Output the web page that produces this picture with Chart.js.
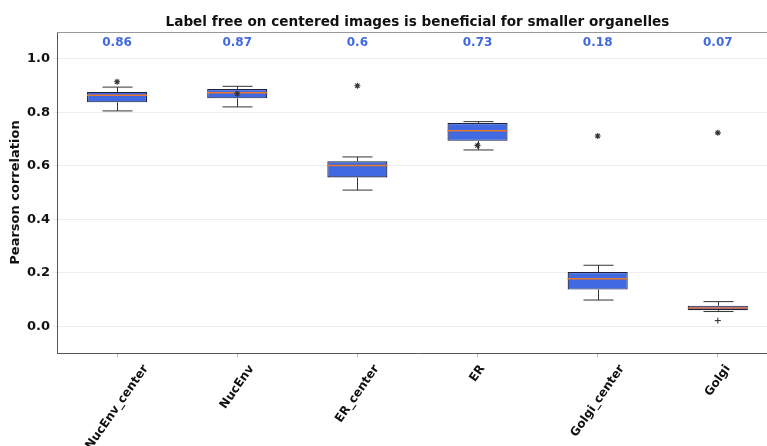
<!DOCTYPE html>
<html>
<head>
<meta charset="utf-8">
<script src="https://cdn.jsdelivr.net/npm/chart.js@4.4.1/dist/chart.umd.min.js"></script>
<style>
  html, body { margin: 0; padding: 0; background: #fff; overflow: hidden; width: 767px; height: 446px; }
  #c { display: block; }
</style>
</head>
<body>
<canvas id="c" width="783" height="446"></canvas>
<script>
// Box statistics per organelle (Pearson correlation)
const categories  = ['NucEnv_center', 'NucEnv', 'ER_center', 'ER', 'Golgi_center', 'Golgi'];
const q1          = [0.837, 0.852, 0.556, 0.693, 0.137, 0.060];
const q3          = [0.876, 0.887, 0.617, 0.760, 0.203, 0.077];
const medians     = [0.864, 0.873, 0.601, 0.731, 0.178, 0.068];
const whiskerLow  = [0.805, 0.820, 0.509, 0.659, 0.098, 0.055];
const whiskerHigh = [0.894, 0.897, 0.633, 0.765, 0.228, 0.092];
const starValues  = [0.914, 0.869, 0.899, 0.676, 0.711, 0.723];
const fliers      = [null, null, null, null, null, 0.021];
const yTicks      = [0.0, 0.2, 0.4, 0.6, 0.8, 1.0];
const titleText   = 'Label free on centered images is beneficial for smaller organelles';
const labelLevel  = 1.06;

const FONT = "'DejaVu Sans', 'Liberation Sans', sans-serif";

// whiskers, caps and median lines drawn right after the boxes
const boxDecor = {
  id: 'boxDecor',
  afterDatasetDraw(chart, args) {
    if (args.index !== 0) return;
    const ctx = chart.ctx, y = chart.scales.y;
    args.meta.data.forEach((bar, i) => {
      const x = Math.round(bar.x) + 0.5;
      const half = bar.width / 2, cap = bar.width / 4;
      const yHi = y.getPixelForValue(whiskerHigh[i]);
      const yLo = y.getPixelForValue(whiskerLow[i]);
      const yQ3 = y.getPixelForValue(q3[i]);
      const yQ1 = y.getPixelForValue(q1[i]);
      const yMed = y.getPixelForValue(medians[i]);
      ctx.save();
      ctx.strokeStyle = '#333';
      ctx.lineWidth = 1;
      ctx.beginPath();
      ctx.moveTo(x, yQ3); ctx.lineTo(x, yHi);
      ctx.moveTo(x, yQ1); ctx.lineTo(x, yLo);
      ctx.moveTo(x - cap, yHi); ctx.lineTo(x + cap, yHi);
      ctx.moveTo(x - cap, yLo); ctx.lineTo(x + cap, yLo);
      ctx.stroke();
      ctx.strokeStyle = '#e8782f';
      ctx.lineWidth = 1.5;
      ctx.beginPath();
      ctx.moveTo(bar.x - half, yMed); ctx.lineTo(bar.x + half, yMed);
      ctx.stroke();
      ctx.restore();
    });
  }
};

// title, top frame line, median labels and rotated category labels
const overlay = {
  id: 'overlay',
  afterDraw(chart) {
    const ctx = chart.ctx, area = chart.chartArea;
    const xs = chart.scales.x, ys = chart.scales.y;
    ctx.save();
    // top frame
    ctx.strokeStyle = '#999';
    ctx.lineWidth = 1.2;
    ctx.beginPath();
    ctx.moveTo(area.left, area.top + 0.5);
    ctx.lineTo(area.right, area.top + 0.5);
    ctx.stroke();

    // title
    ctx.fillStyle = '#111';
    ctx.font = 'bold 13.6px ' + FONT;
    ctx.textAlign = 'center';
    ctx.textBaseline = 'middle';
    ctx.fillText(titleText, (area.left + area.right) / 2, 22);

    // median labels
    ctx.fillStyle = '#4169E1';
    ctx.font = 'bold 12px ' + FONT;
    const ly = ys.getPixelForValue(labelLevel);
    medians.forEach((m, i) => {
      const txt = String(Math.round(m * 100) / 100);
      ctx.fillText(txt, xs.getPixelForValue(i), ly);
    });

    // category labels, rotated 55 degrees, bounding box centred on the tick
    const theta = 55 * Math.PI / 180;
    const fs = 12;
    ctx.fillStyle = '#111';
    ctx.font = 'bold ' + fs + 'px ' + FONT;
    categories.forEach((c, i) => {
      const w = ctx.measureText(c).width;
      const h = fs * 1.15;
      const bh = w * Math.sin(theta) + h * Math.cos(theta);
      const cx = xs.getPixelForValue(i);
      const cy = area.bottom + 9.5 + bh / 2;
      ctx.save();
      ctx.translate(cx, cy);
      ctx.rotate(-theta);
      ctx.textAlign = 'center';
      ctx.textBaseline = 'middle';
      ctx.fillText(c, 0, 0);
      ctx.restore();
    });
    ctx.restore();
  }
};

new Chart(document.getElementById('c'), {
  type: 'bar',
  data: {
    labels: categories,
    datasets: [
      {
        label: 'box',
        data: categories.map((_, i) => [q1[i], q3[i]]),
        backgroundColor: '#4169E1',
        borderColor: '#1d1f3f',
        borderWidth: 1.2,
        borderSkipped: false,
        barPercentage: 0.5,
        categoryPercentage: 1.0,
        order: 3
      },
      {
        type: 'line',
        label: 'star',
        data: starValues,
        showLine: false,
        pointStyle: 'star',
        pointRadius: 3,
        pointBorderWidth: 1.1,
        pointBorderColor: '#333',
        pointBackgroundColor: '#333',
        order: 1
      },
      {
        type: 'line',
        label: 'flier',
        data: fliers,
        showLine: false,
        pointStyle: 'cross',
        pointRadius: 3,
        pointBorderWidth: 1,
        pointBorderColor: '#222',
        order: 0
      }
    ]
  },
  options: {
    responsive: false,
    maintainAspectRatio: false,
    devicePixelRatio: 1,
    animation: false,
    events: [],
    layout: { padding: { top: 32, left: 0, right: 0, bottom: 0 } },
    plugins: {
      legend: { display: false },
      title: { display: false },
      tooltip: { enabled: false }
    },
    scales: {
      x: {
        offset: true,
        grid: { offset: false, drawOnChartArea: false, drawTicks: true, tickLength: 4, color: '#bbb' },
        border: { display: true, color: '#555', width: 1 },
        ticks: { display: false },
        afterFit(scale) { scale.height = 93; }
      },
      y: {
        min: -0.1,
        max: 1.1,
        afterBuildTicks(scale) { scale.ticks = yTicks.map(v => ({ value: v })); },
        grid: { color: '#ececec', lineWidth: 1, tickLength: 4 },
        border: { display: true, color: '#555', width: 1 },
        ticks: {
          padding: 3,
          color: '#111',
          font: { family: FONT, size: 13, weight: 'bold' },
          callback: v => Number(v).toFixed(1)
        },
        title: {
          display: true,
          text: 'Pearson correlation',
          color: '#111',
          font: { family: FONT, size: 13, weight: 'bold' },
          padding: { top: 8, bottom: 0 }
        },
        afterFit(scale) { scale.width = 57; }
      }
    }
  },
  plugins: [boxDecor, overlay]
});
</script>
</body>
</html>
